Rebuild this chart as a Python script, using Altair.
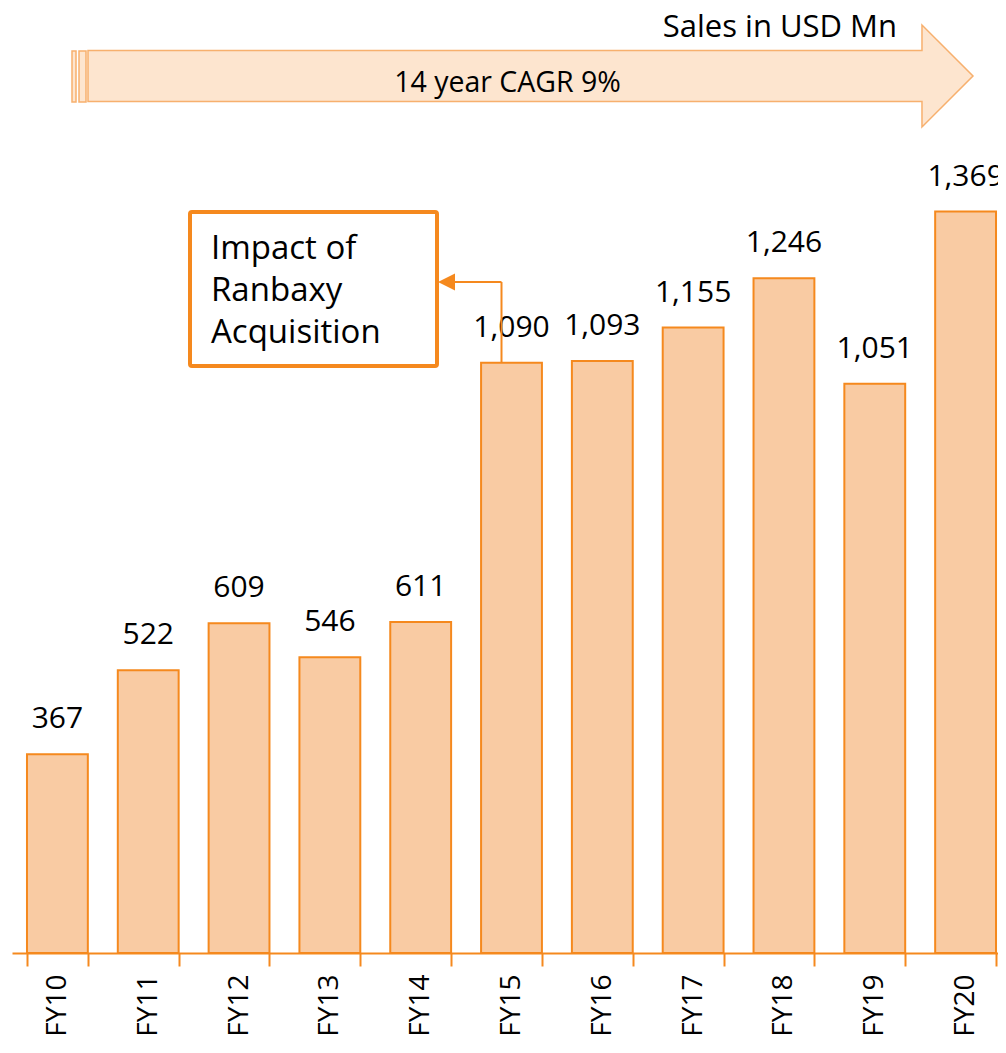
import altair as alt
import pandas as pd

years = ["FY10", "FY11", "FY12", "FY13", "FY14", "FY15", "FY16", "FY17", "FY18", "FY19", "FY20"]
sales = [367, 522, 609, 546, 611, 1090, 1093, 1155, 1246, 1051, 1369]

unit_label = "Sales in USD Mn"
cagr_label = "14 year CAGR 9%"
note_lines = ["Impact of", "Ranbaxy", "Acquisition"]

ORANGE = "#F5891E"
BAR_FILL = "#F9CBA3"
ARROW_FILL = "#FDE5CF"
ARROW_STROKE = "#F7B06E"
FONT = "Open Sans"

df = pd.DataFrame({"year": years, "sales": sales})

W, H = 999, 945

x_enc = alt.X(
    "year:N",
    sort=years,
    scale=alt.Scale(paddingInner=0.33, paddingOuter=0.165),
    axis=alt.Axis(
        title=None,
        labelAngle=270,
        labelAlign="right",
        labelBaseline="middle",
        labelFont=FONT,
        labelFontSize=28,
        labelColor="#000000",
        labelPadding=8,
        domainColor=ORANGE,
        domainWidth=2,
        tickColor=ORANGE,
        tickWidth=2,
        tickSize=13,
        tickBand="extent",
        grid=False,
    ),
)
y_enc = alt.Y("sales:Q", scale=alt.Scale(domain=[0, 1745]), axis=None)

base = alt.Chart(df)

bars = base.mark_bar(fill=BAR_FILL, stroke=ORANGE, strokeWidth=2).encode(x=x_enc, y=y_enc)

labels = base.mark_text(
    font=FONT, fontSize=30, baseline="alphabetic", dy=-26, color="#000000"
).encode(x=x_enc, y=y_enc, text=alt.Text("sales:Q", format=","))

# big arrow
arrow_path = "M-1,-0.0576 L0.8847,-0.0576 L0.8847,-0.1153 L1,0 L0.8847,0.1153 L0.8847,0.0576 L-1,0.0576 Z"
arrow = alt.Chart().mark_point(
    shape=arrow_path, size=885 * 885, filled=True, fill=ARROW_FILL,
    stroke=ARROW_STROKE, strokeWidth=1.5, opacity=1
).encode(x=alt.value(518.5), y=alt.value(68))

stripe1 = alt.Chart().mark_rect(fill=ARROW_FILL, stroke=ARROW_STROKE, strokeWidth=1.5).encode(
    x=alt.value(60), x2=alt.value(64), y=alt.value(43), y2=alt.value(94))
stripe2 = alt.Chart().mark_rect(fill=ARROW_FILL, stroke=ARROW_STROKE, strokeWidth=1.5).encode(
    x=alt.value(67), x2=alt.value(74), y=alt.value(43), y2=alt.value(94))

cagr = alt.Chart().mark_text(
    font=FONT, fontSize=28.5, align="center", baseline="alphabetic", color="#000000"
).encode(x=alt.value(495.5), y=alt.value(84), text=alt.value(cagr_label))

unit = alt.Chart().mark_text(
    font=FONT, fontSize=31, align="right", baseline="alphabetic", color="#000000"
).encode(x=alt.value(885), y=alt.value(29), text=alt.value(unit_label))

# annotation box
box = alt.Chart().mark_rect(
    fill="white", stroke=ORANGE, strokeWidth=4, cornerRadius=2
).encode(x=alt.value(178), x2=alt.value(425), y=alt.value(204), y2=alt.value(358))

note = alt.Chart().mark_text(
    font=FONT, fontSize=33, align="left", baseline="alphabetic", lineHeight=42, color="#000000"
).encode(x=alt.value(199), y=alt.value(251), text=alt.value(note_lines))

conn_v = alt.Chart().mark_rule(color=ORANGE, strokeWidth=2).encode(
    x=alt.value(489.5), y=alt.value(274), y2=alt.value(354))
conn_h = alt.Chart().mark_rule(color=ORANGE, strokeWidth=2).encode(
    x=alt.value(443), x2=alt.value(489.5), y=alt.value(274))
tri = alt.Chart().mark_point(
    shape="M-1,0 L1,-1 L1,1 Z", size=17 * 17, filled=True, fill=ORANGE, opacity=1, strokeWidth=0
).encode(x=alt.value(434.5), y=alt.value(274))

chart = alt.layer(
    bars, labels, arrow, stripe1, stripe2, cagr, unit, box, note, conn_v, conn_h, tri
).properties(
    width=W,
    height=H,
    autosize=alt.AutoSizeParams(type="none"),
    padding={"left": 4, "top": 0, "right": -13, "bottom": 86},
).configure(background="white").configure_view(stroke=None)

chart.save("out.html", embed_options={"renderer": "svg", "actions": False})
